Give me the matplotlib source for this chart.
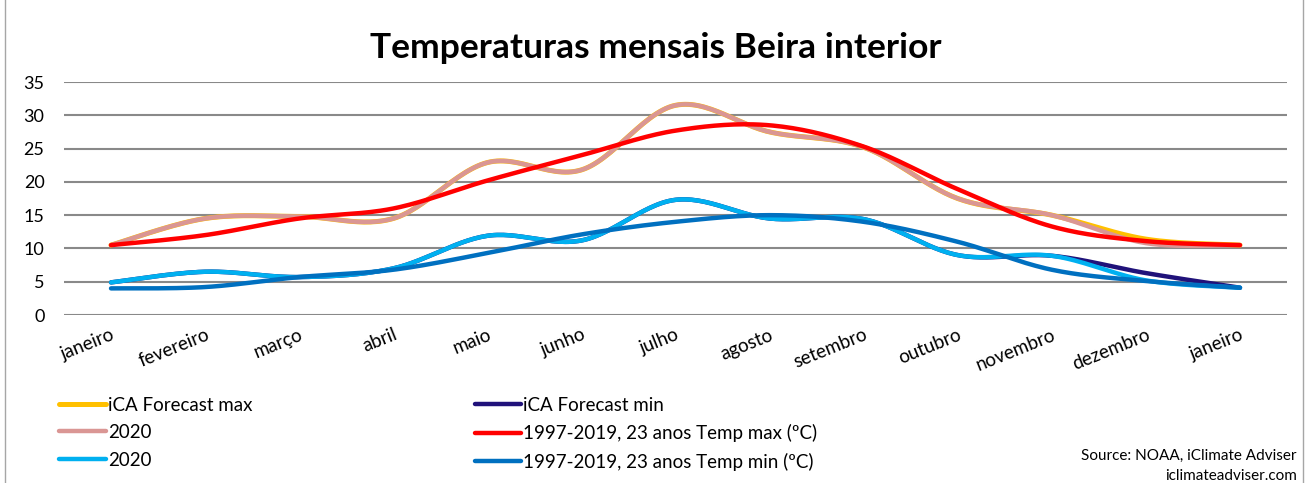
import numpy as np
import matplotlib
matplotlib.use("Agg")
import matplotlib.pyplot as plt
from matplotlib.patches import Rectangle

plt.rcParams['font.family'] = ['Lato', 'DejaVu Sans']

months = ["janeiro", "fevereiro", "março", "abril", "maio", "junho", "julho",
          "agosto", "setembro", "outubro", "novembro", "dezembro", "janeiro"]

forecast_max = [10.5, 14.5, 14.8, 14.5, 22.9, 21.8, 31.5, 27.5, 25.2, 17.5, 15.0, 11.4, 10.5]
forecast_min = [4.9, 6.5, 5.7, 7.0, 11.9, 11.2, 17.3, 14.5, 14.4, 9.0, 8.9, 6.3, 4.1]
max_2020 = [10.5, 14.5, 14.8, 14.5, 22.9, 21.8, 31.5, 27.5, 25.2, 17.5, 15.0, 10.8, 10.5]
avg_max = [10.5, 12.0, 14.5, 16.0, 20.2, 24.0, 27.7, 28.5, 25.3, 18.9, 13.3, 11.1, 10.5]
min_2020 = [4.9, 6.5, 5.7, 7.0, 11.9, 11.2, 17.3, 14.5, 14.4, 9.0, 8.9, 5.2, 4.1]
avg_min = [4.0, 4.2, 5.7, 6.8, 9.3, 12.1, 14.0, 15.0, 14.0, 11.0, 6.8, 5.1, 4.1]

series = [
    ("iCA Forecast max", forecast_max, "#FFC000", 3.6),
    ("iCA Forecast min", forecast_min, "#20127A", 3.2),
    ("2020", max_2020, "#DA9694", 3.2),
    ("1997-2019, 23 anos Temp max (ºC)", avg_max, "#FF0000", 3.2),
    ("2020", min_2020, "#00B0F0", 3.2),
    ("1997-2019, 23 anos Temp min (ºC)", avg_min, "#0070C0", 3.2),
]


def smooth(y, n=30):
    # excel style smoothed line (catmull-rom bezier)
    x = np.arange(len(y), dtype=float)
    y = np.asarray(y, dtype=float)
    pts = np.column_stack([x, y])
    p = np.vstack([pts[0], pts, pts[-1]])
    out = []
    t = np.linspace(0, 1, n)[:, None]
    for i in range(1, len(p) - 2):
        p0, p1, p2, p3 = p[i - 1], p[i], p[i + 1], p[i + 2]
        c1 = p1 + (p2 - p0) / 6
        c2 = p2 - (p3 - p1) / 6
        seg = ((1 - t) ** 3) * p1 + 3 * ((1 - t) ** 2) * t * c1 + 3 * (1 - t) * t ** 2 * c2 + t ** 3 * p2
        out.append(seg if i == 1 else seg[1:])
    out = np.vstack(out)
    return out[:, 0], out[:, 1]


fig = plt.figure(figsize=(13.11, 4.83), dpi=100)
ax = fig.add_axes([0.0488, 0.3478, 0.9329, 0.4824])

for label, vals, color, lw in series:
    sx, sy = smooth(vals)
    ax.plot(sx, sy, color=color, lw=lw, solid_capstyle="round", label=label)

ax.set_xlim(-0.5, len(months) - 0.5)
ax.set_ylim(0, 35)
ax.set_yticks(range(0, 36, 5))
ax.set_xticks(range(len(months)))
ax.set_xticklabels(months, rotation=22, ha="right", va="top", rotation_mode="anchor", fontsize=13.5)
ax.tick_params(axis="y", labelsize=13, length=0, pad=14)
ax.tick_params(axis="x", length=0, pad=8)
ax.yaxis.grid(True, color="#898989", lw=1.5)
ax.set_axisbelow(True)
for s in ax.spines.values():
    s.set_visible(False)

fig.text(0.5, 0.9, "Temperaturas mensais Beira interior", ha="center", va="center",
         fontsize=25.5, fontweight="bold")

hl = ax.get_lines()
leg_kw = dict(loc="upper left", frameon=False, fontsize=13.5, handlelength=2.5,
              handletextpad=0.1, labelspacing=0.56, borderaxespad=0, borderpad=0)
fig.legend([hl[0], hl[2], hl[4]], [series[0][0], series[2][0], series[4][0]],
           bbox_to_anchor=(0.045, 0.179), **leg_kw)
fig.legend([hl[1], hl[3], hl[5]], [series[1][0], series[3][0], series[5][0]],
           bbox_to_anchor=(0.362, 0.179), **leg_kw)

fig.text(0.989, 0.056, "Source: NOAA, iClimate Adviser", ha="right", va="center", fontsize=11)
fig.text(0.989, 0.015, "iclimateadviser.com", ha="right", va="center", fontsize=11)

fig.add_artist(Rectangle((0.004, -0.01), 0.99, 1.05, transform=fig.transFigure,
                         fill=False, edgecolor="#A6A6A6", lw=1))

fig.savefig("out.png", dpi=100)
